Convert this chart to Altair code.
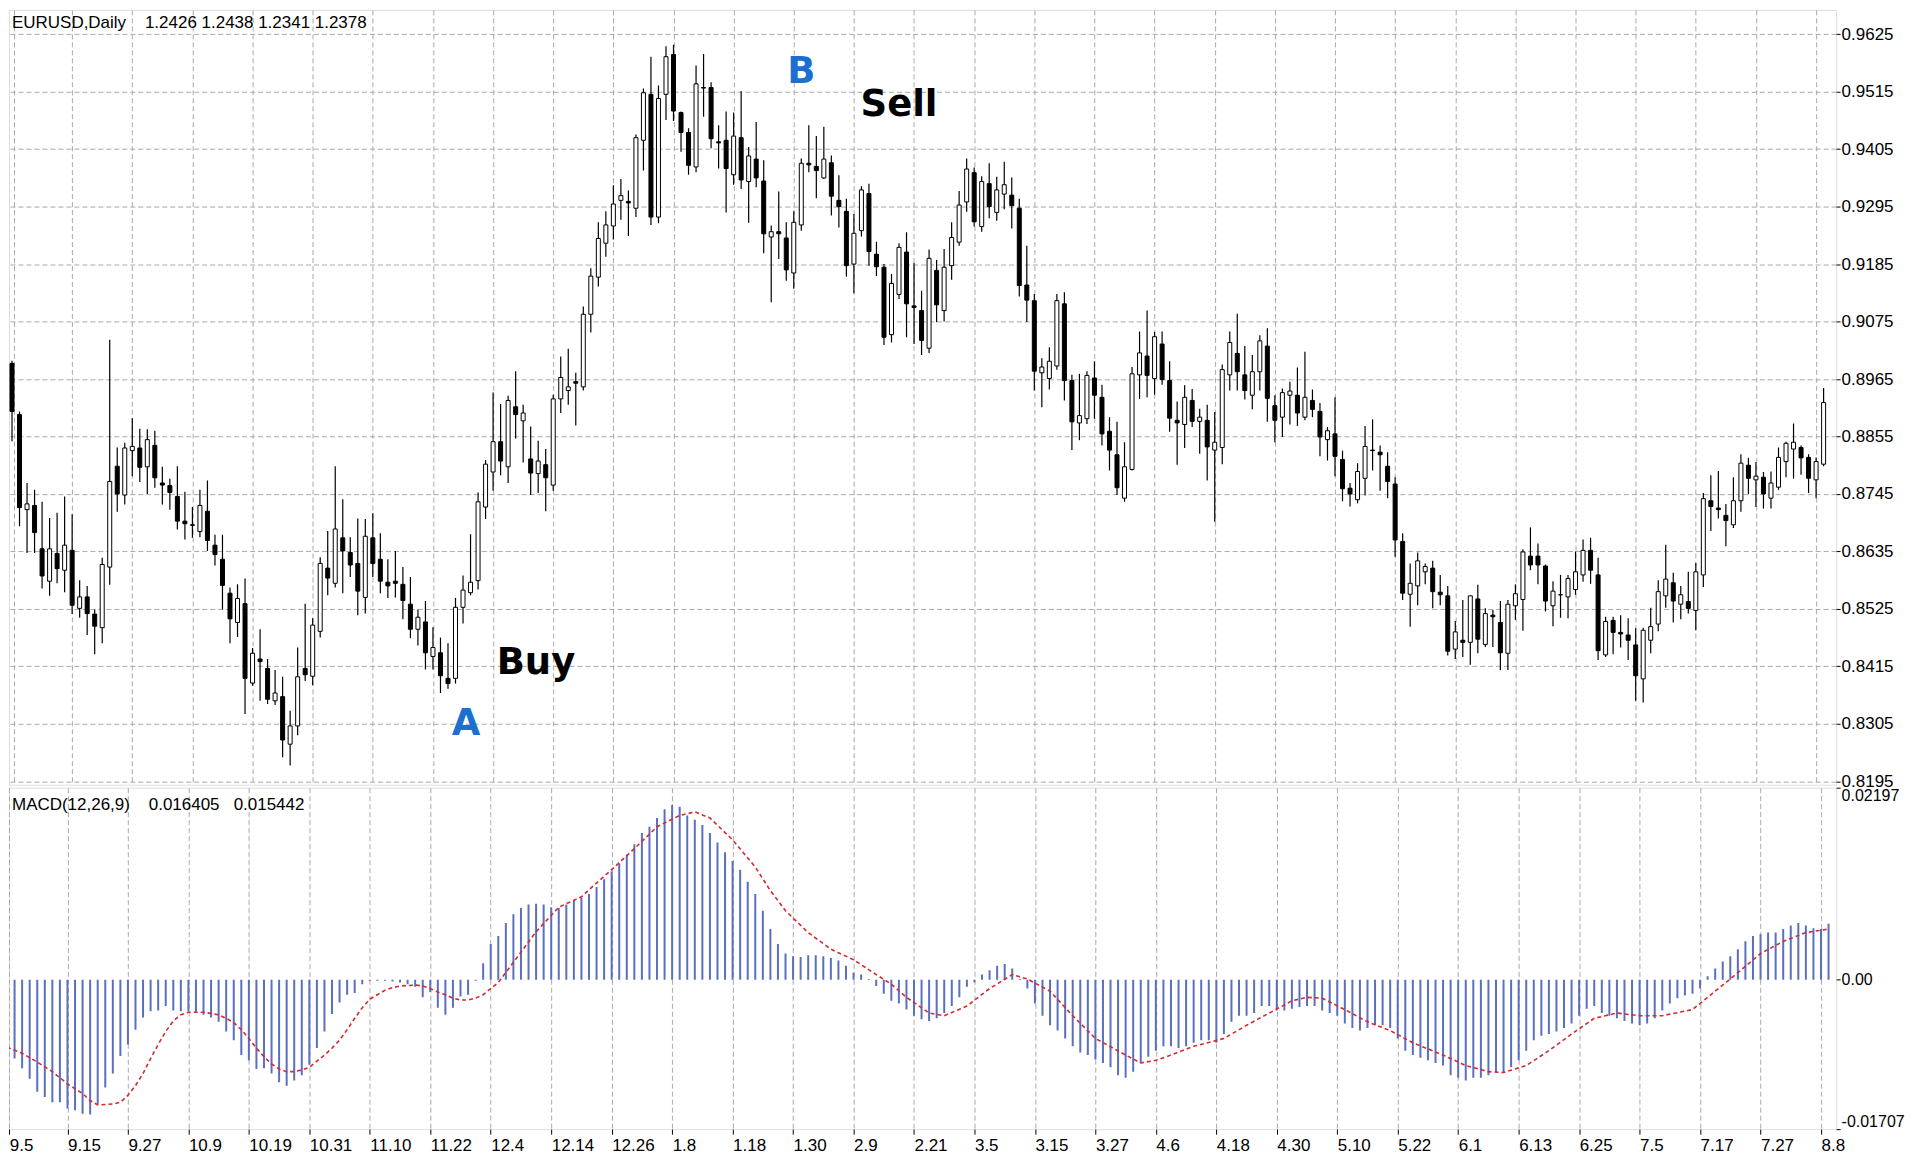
import altair as alt
import pandas as pd

# ---------------- data ----------------
DATE_LABELS = ["9.5", "9.15", "9.27", "10.9", "10.19", "10.31", "11.10", "11.22", "12.4",
               "12.14", "12.26", "1.8", "1.18", "1.30", "2.9", "2.21", "3.5", "3.15", "3.27",
               "4.6", "4.18", "4.30", "5.10", "5.22", "6.1", "6.13", "6.25", "7.5", "7.17",
               "7.27", "8.8"]

PRICE_TICKS = [0.9625, 0.9515, 0.9405, 0.9295, 0.9185, 0.9075, 0.8965, 0.8855, 0.8745,
               0.8635, 0.8525, 0.8415, 0.8305, 0.8195]
MACD_TICKS = [0.02197, 0.0, -0.01707]
MACD_TICK_LABELS = ["0.02197", "0.00", "-0.01707"]

OPEN = [
    .8995, .8897, .8715, .8723, .8640, .8578, .8631, .8599, .8637, .8526,
    .8548, .8515, .8489, .8605, .8798, .8743, .8828, .8833, .8797, .8838,
    .8766, .8761, .8740, .8693, .8686, .8673, .8712, .8647, .8620, .8555,
    .8499, .8535, .8383, .8429, .8411, .8349, .8357, .8266, .8301, .8411,
    .8396, .8482, .8603, .8574, .8661, .8633, .8612, .8547, .8661, .8620,
    .8576, .8578, .8572, .8534, .8486, .8500, .8434, .8441, .8392, .8392,
    .8528, .8556, .8579, .8720, .8787, .8845, .8797, .8912, .8885, .8812,
    .8784, .8801, .8762, .8927, .8943, .8960, .8950, .9089, .9160, .9225,
    .9258, .9307, .9305, .9292, .9422, .9510, .9275, .9510, .9586, .9475,
    .9437, .9371, .9523, .9523, .9419, .9422, .9356, .9427, .9343, .9386,
    .9344, .9237, .9247, .9235, .9168, .9260, .9378, .9372, .9350, .9379,
    .9307, .9286, .9185, .9249, .9320, .9204, .9179, .9050, .9127, .9208,
    .9105, .9096, .9024, .9173, .9096, .9182, .9227, .9304, .9360, .9257,
    .9339, .9284, .9319, .9317, .9292, .9145, .9115, .8977, .8966, .8990,
    .9109, .8962, .8881, .8889, .8967, .8930, .8865, .8820, .8737, .8792,
    .8973, .9009, .8966, .9032, .8962, .8886, .8878, .8924, .8884, .8886,
    .8829, .8834, .8973, .9014, .8973, .8934, .8979, .9028, .8914, .8892,
    .8934, .8934, .8892, .8924, .8903, .8849, .8860, .8811, .8756, .8734,
    .8775, .8829, .8825, .8798, .8764, .8654, .8553, .8569, .8596, .8603,
    .8557, .8550, .8448, .8465, .8461, .8544, .8457, .8513, .8499, .8440,
    .8531, .8543, .8626, .8626, .8607, .8531, .8552, .8548, .8562, .8590,
    .8637, .8590, .8437, .8503, .8480, .8475, .8456, .8391, .8465, .8496,
    .8550, .8575, .8534, .8539, .8522, .8590, .8732, .8718, .8704, .8686,
    .8732, .8800, .8772, .8777, .8737, .8758, .8807, .8831, .8834, .8815,
    .8772, .8802]

HIGH = [
    .9000, .8903, .8766, .8753, .8730, .8699, .8709, .8740, .8706, .8580,
    .8569, .8524, .8623, .9040, .8834, .8843, .8890, .8870, .8869, .8866,
    .8797, .8774, .8798, .8749, .8720, .8753, .8771, .8667, .8667, .8566,
    .8572, .8583, .8450, .8486, .8429, .8408, .8395, .8330, .8451, .8535,
    .8507, .8624, .8674, .8798, .8735, .8662, .8698, .8697, .8708, .8670,
    .8620, .8636, .8605, .8586, .8524, .8540, .8490, .8470, .8459, .8546,
    .8589, .8668, .8748, .8810, .8939, .8917, .8933, .8980, .8916, .8874,
    .8847, .8831, .8935, .9008, .9023, .8977, .9104, .9177, .9265, .9286,
    .9336, .9348, .9326, .9433, .9521, .9582, .9527, .9602, .9605, .9477,
    .9445, .9565, .9587, .9533, .9451, .9477, .9475, .9516, .9409, .9457,
    .9384, .9259, .9324, .9265, .9286, .9387, .9451, .9430, .9448, .9393,
    .9355, .9310, .9281, .9334, .9339, .9228, .9185, .9166, .9225, .9246,
    .9187, .9134, .9213, .9193, .9214, .9265, .9325, .9387, .9370, .9353,
    .9378, .9352, .9381, .9351, .9310, .9220, .9128, .9005, .9026, .9128,
    .9131, .8973, .8975, .8980, .8999, .8954, .8892, .8883, .8844, .8988,
    .9056, .9096, .9055, .9056, .8999, .8922, .8953, .8946, .8908, .8916,
    .8902, .8993, .9056, .9090, .9028, .9011, .9049, .9062, .8934, .8947,
    .8960, .8987, .9017, .8945, .8919, .8873, .8930, .8828, .8766, .8804,
    .8875, .8888, .8838, .8825, .8777, .8670, .8612, .8633, .8612, .8617,
    .8590, .8569, .8502, .8542, .8550, .8571, .8526, .8523, .8540, .8542,
    .8572, .8639, .8681, .8650, .8610, .8578, .8590, .8590, .8635, .8658,
    .8661, .8623, .8510, .8510, .8513, .8507, .8488, .8489, .8527, .8580,
    .8648, .8594, .8569, .8596, .8613, .8747, .8781, .8789, .8726, .8777,
    .8821, .8814, .8806, .8787, .8788, .8834, .8845, .8880, .8838, .8821,
    .8815, .8948]

LOW = [
    .8846, .8683, .8632, .8632, .8564, .8550, .8574, .8557, .8515, .8508,
    .8475, .8438, .8459, .8571, .8711, .8725, .8779, .8768, .8745, .8757,
    .8725, .8715, .8677, .8658, .8661, .8662, .8636, .8608, .8524, .8459,
    .8471, .8324, .8378, .8349, .8343, .8341, .8241, .8225, .8283, .8387,
    .8379, .8470, .8551, .8566, .8555, .8586, .8513, .8516, .8586, .8555,
    .8546, .8547, .8505, .8469, .8455, .8409, .8409, .8364, .8372, .8382,
    .8497, .8551, .8562, .8697, .8751, .8781, .8766, .8851, .8805, .8743,
    .8747, .8712, .8751, .8900, .8916, .8876, .8943, .9054, .9142, .9199,
    .9232, .9270, .9239, .9275, .9364, .9260, .9263, .9461, .9459, .9400,
    .9356, .9361, .9467, .9407, .9368, .9284, .9337, .9329, .9264, .9332,
    .9206, .9112, .9195, .9153, .9138, .9249, .9361, .9311, .9348, .9278,
    .9255, .9161, .9129, .9238, .9182, .9162, .9030, .9035, .9118, .9045,
    .9032, .9011, .9015, .9074, .9075, .9155, .9220, .9285, .9257, .9247,
    .9273, .9268, .9290, .9253, .9123, .9074, .8943, .8911, .8945, .8983,
    .8924, .8829, .8848, .8879, .8889, .8838, .8790, .8743, .8730, .8790,
    .8927, .8930, .8935, .8954, .8864, .8801, .8833, .8873, .8822, .8771,
    .8692, .8802, .8943, .8943, .8926, .8907, .8943, .8883, .8844, .8854,
    .8878, .8875, .8886, .8892, .8817, .8809, .8779, .8731, .8721, .8727,
    .8742, .8790, .8751, .8737, .8625, .8542, .8491, .8532, .8572, .8526,
    .8532, .8436, .8429, .8433, .8418, .8440, .8452, .8452, .8408, .8408,
    .8504, .8483, .8599, .8572, .8520, .8492, .8508, .8507, .8552, .8577,
    .8573, .8427, .8433, .8438, .8451, .8427, .8349, .8346, .8440, .8482,
    .8527, .8499, .8505, .8516, .8484, .8567, .8674, .8698, .8645, .8680,
    .8711, .8745, .8720, .8717, .8717, .8753, .8777, .8774, .8782, .8747,
    .8737, .8798]

CLOSE = [
    .8903, .8719, .8726, .8671, .8588, .8640, .8602, .8647, .8532, .8548,
    .8516, .8492, .8610, .8769, .8745, .8833, .8836, .8796, .8849, .8776,
    .8762, .8748, .8693, .8688, .8685, .8723, .8656, .8629, .8570, .8506,
    .8545, .8392, .8440, .8424, .8352, .8364, .8274, .8301, .8395, .8399,
    .8494, .8612, .8584, .8678, .8636, .8609, .8559, .8664, .8612, .8578,
    .8569, .8574, .8541, .8486, .8509, .8441, .8451, .8397, .8382, .8528,
    .8561, .8576, .8730, .8802, .8845, .8808, .8924, .8897, .8900, .8785,
    .8808, .8776, .8927, .8968, .8950, .8957, .9089, .9162, .9234, .9260,
    .9300, .9316, .9302, .9427, .9513, .9275, .9502, .9582, .9478, .9437,
    .9374, .9530, .9522, .9425, .9417, .9368, .9430, .9346, .9392, .9350,
    .9243, .9247, .9243, .9174, .9265, .9378, .9375, .9364, .9386, .9315,
    .9295, .9182, .9244, .9327, .9209, .9180, .9045, .9148, .9217, .9109,
    .9102, .9039, .9196, .9107, .9179, .9236, .9298, .9367, .9266, .9343,
    .9295, .9327, .9337, .9297, .9144, .9116, .8980, .8988, .8999, .9115,
    .8962, .8883, .8895, .8972, .8934, .8860, .8829, .8757, .8797, .8975,
    .9015, .8972, .9046, .8964, .8890, .8881, .8930, .8884, .8892, .8835,
    .8844, .8983, .9035, .8979, .8943, .8979, .9038, .8928, .8886, .8939,
    .8942, .8900, .8930, .8907, .8854, .8866, .8817, .8755, .8745, .8788,
    .8836, .8828, .8820, .8769, .8657, .8555, .8574, .8617, .8606, .8558,
    .8552, .8444, .8481, .8461, .8550, .8467, .8516, .8510, .8441, .8534,
    .8554, .8634, .8609, .8609, .8540, .8559, .8552, .8583, .8596, .8637,
    .8599, .8445, .8501, .8480, .8477, .8465, .8397, .8484, .8491, .8558,
    .8582, .8540, .8552, .8526, .8596, .8736, .8721, .8715, .8694, .8732,
    .8804, .8775, .8779, .8745, .8766, .8815, .8842, .8844, .8814, .8775,
    .8807, .8920]

MACD = [
    -.0072, -.0090, -.0101, -.0113, -.0128, -.0134, -.0140, -.0140, -.0147, -.0149,
    -.0153, -.0154, -.0142, -.0123, -.0107, -.0087, -.0074, -.0057, -.0043, -.0036,
    -.0035, -.0030, -.0035, -.0036, -.0036, -.0037, -.0040, -.0043, -.0048, -.0059,
    -.0069, -.0086, -.0092, -.0102, -.0101, -.0107, -.0117, -.0121, -.0115, -.0109,
    -.0097, -.0078, -.0059, -.0039, -.0026, -.0017, -.0015, -.0005, -.0001, -.0001,
    -.0001, -.0002, -.0003, -.0005, -.0008, -.0020, -.0014, -.0032, -.0040, -.0032,
    -.0019, -.0017, -.0001, .0019, .0041, .0050, .0065, .0075, .0082, .0086,
    .0087, .0086, .0083, .0082, .0086, .0090, .0094, .0098, .0106, .0115,
    .0124, .0133, .0143, .0155, .0168, .0175, .0185, .0195, .0200, .0198,
    .0188, .0183, .0177, .0168, .0157, .0146, .0136, .0126, .0112, .0098,
    .0079, .0058, .0041, .0030, .0027, .0026, .0028, .0028, .0027, .0025,
    .0022, .0016, .0008, .0006, .0001, -.0007, -.0016, -.0024, -.0027, -.0034,
    -.0041, -.0045, -.0047, -.0044, -.0038, -.0030, -.0020, -.0008, -.0003, .0006,
    .0011, .0016, .0018, .0013, .0001, -.0010, -.0027, -.0041, -.0052, -.0058,
    -.0067, -.0076, -.0083, -.0086, -.0091, -.0095, -.0100, -.0109, -.0112, -.0105,
    -.0095, -.0088, -.0081, -.0076, -.0076, -.0078, -.0076, -.0072, -.0069, -.0069,
    -.0072, -.0062, -.0048, -.0041, -.0041, -.0038, -.0030, -.0030, -.0035, -.0035,
    -.0033, -.0031, -.0030, -.0030, -.0035, -.0038, -.0041, -.0050, -.0055, -.0058,
    -.0055, -.0052, -.0052, -.0055, -.0067, -.0081, -.0086, -.0089, -.0092, -.0095,
    -.0098, -.0109, -.0112, -.0115, -.0112, -.0112, -.0109, -.0106, -.0106, -.0100,
    -.0092, -.0081, -.0069, -.0064, -.0062, -.0059, -.0055, -.0050, -.0041, -.0033,
    -.0030, -.0038, -.0041, -.0044, -.0047, -.0050, -.0052, -.0050, -.0044, -.0035,
    -.0027, -.0021, -.0018, -.0016, -.0010, .0004, .0013, .0021, .0027, .0035,
    .0044, .0050, .0052, .0054, .0054, .0058, .0062, .0065, .0062, .0059,
    .0058, .0064]

SIG_BAR = [0, 2, 4, 6, 8, 10, 11, 12, 14, 15, 16, 17, 18, 19, 20, 21, 22, 23, 24, 26,
           28, 29, 30, 31, 32, 33, 34, 35, 36, 37, 38, 39, 40, 41, 42, 43, 44, 45, 46, 47,
           48, 49, 50, 51, 52, 54, 55, 56, 57, 58, 59, 60, 61, 62, 63, 64, 65,
           67, 70, 73, 76, 77, 80, 83, 86, 89, 91, 93, 96, 99, 101, 103, 106, 109, 112,
           115, 117, 119, 122, 124, 127, 130, 133, 135, 138, 141, 144, 148, 150, 152, 154,
           157, 161, 164, 167, 170, 172, 174, 177, 180, 183, 186, 190, 193, 196, 198, 201,
           204, 207, 210, 213, 216, 219, 223, 225, 228, 232, 235, 238, 241]
SIG_VAL = [-.0077, -.0084, -.0094, -.0105, -.0119, -.0130, -.0138, -.0143, -.0142, -.0140,
           -.0132, -.0121, -.0107, -.0090, -.0074, -.0059, -.0047, -.0040, -.0037, -.0037,
           -.0040, -.0044, -.0049, -.0057, -.0067, -.0078, -.0088, -.0096, -.0102, -.0105,
           -.0105, -.0103, -.0100, -.0093, -.0086, -.0078, -.0069, -.0057, -.0044, -.0032,
           -.0022, -.0017, -.0012, -.0009, -.0007, -.0006, -.0007, -.0010, -.0014, -.0017,
           -.0021, -.0023, -.0023, -.0021, -.0017, -.0010, -.0003,
           .0020, .0055, .0083, .0095, .0103, .0126, .0150, .0175, .0188, .0192, .0185,
           .0160, .0129, .0102, .0079, .0054, .0035, .0023,
           .0006, -.0005, -.0020, -.0038, -.0041, -.0030, -.0010, .0006, .0001, -.0013,
           -.0041, -.0067, -.0086, -.0095, -.0092, -.0086,
           -.0076, -.0067, -.0052, -.0038, -.0024, -.0020, -.0021, -.0034, -.0048, -.0058,
           -.0072, -.0086, -.0098, -.0105, -.0106, -.0098,
           -.0081, -.0062, -.0044, -.0038, -.0041, -.0041, -.0034, -.0020, .0001, .0030,
           .0044, .0054, .0058]

ANNOT_TEXT = ["Buy", "Sell", "A", "B"]
ANNOT_BAR = [69.7, 118.0, 60.4, 105.0]
ANNOT_PRICE = [0.8401, 0.9468, 0.8284, 0.9531]
ANNOT_COLOR = ["black", "black", "#1b6fd1", "#1b6fd1"]

HEADER_PRICE = "EURUSD,Daily\u00a0\u00a0\u00a0\u00a01.2426 1.2438 1.2341 1.2378"
HEADER_MACD = "MACD(12,26,9)\u00a0\u00a0\u00a0\u00a00.016405\u00a0\u00a0\u00a00.015442"

# ---------------- styling ----------------
FONT = "Liberation Sans"
GRID = "#a9a9a9"
HIST_COLOR = "#5b6fbf"
SIG_COLOR = "#d42a30"

W, H1, H2 = 1830, 776, 342
X_DOMAIN = [0.264, 242.0]
PRICE_DOMAIN = [0.81885, 0.96716]
MACD_DOMAIN = [MACD_TICKS[2], MACD_TICKS[0]]

n = len(OPEN)
candles = pd.DataFrame({"i": list(range(n)), "open": OPEN, "high": HIGH, "low": LOW,
                        "close": CLOSE, "macd": MACD})
candles["zero"] = 0.0
signal = pd.DataFrame({"i": SIG_BAR, "v": SIG_VAL})
annot = pd.DataFrame({"i": ANNOT_BAR, "p": ANNOT_PRICE, "t": ANNOT_TEXT, "c": ANNOT_COLOR})

XT = [0.3] + [8 * k for k in range(1, len(DATE_LABELS))]
label_expr = "[" + ",".join("'%s'" % s for s in DATE_LABELS) + "][round(datum.value / 8)]"
macd_label_expr = ("datum.value > 0.001 ? '%s' : (datum.value < -0.001 ? '%s' : '%s')"
                   % (MACD_TICK_LABELS[0], MACD_TICK_LABELS[2], MACD_TICK_LABELS[1]))

xscale = alt.Scale(domain=X_DOMAIN, nice=False, zero=False)
pscale = alt.Scale(domain=PRICE_DOMAIN, nice=False, zero=False)
mscale = alt.Scale(domain=MACD_DOMAIN, nice=False, zero=False)

x_top_axis = alt.Axis(values=XT, labels=False, ticks=False, domain=False, grid=True,
                      gridColor=GRID, gridDash=[5, 3], title=None)
p_axis = alt.Axis(orient="right", values=PRICE_TICKS, format=".4f", grid=True,
                  gridColor=GRID, gridDash=[5, 3], domain=False, ticks=True, tickSize=4,
                  tickColor="black", labelPadding=1, labelFont=FONT, labelFontSize=17,
                  labelColor="black", title=None, labelOverlap=False)
x_bot_axis = alt.Axis(values=XT, labelExpr=label_expr, labelAlign="left", labelFont=FONT,
                      labelFontSize=17, labelColor="black", labelPadding=3, ticks=True,
                      tickSize=5, tickColor="black", domain=False, grid=True,
                      gridColor=GRID, gridDash=[5, 3], title=None, labelOverlap=False,
                      labelFlush=False)
m_axis = alt.Axis(orient="right", values=MACD_TICKS, labelExpr=macd_label_expr,
                  labelFont=FONT, labelFontSize=16, labelColor="black", labelPadding=1,
                  tickSize=4, tickColor="black", domain=False, grid=False, title=None,
                  labelFlush=True, labelOverlap=False)

x_top = alt.X("i:Q", scale=xscale, axis=x_top_axis)
x_bot = alt.X("i:Q", scale=xscale, axis=x_bot_axis)

# ---------------- price panel ----------------
wicks = alt.Chart(candles).mark_rule(color="black", strokeWidth=1.2, clip=True).encode(
    x=x_top, y=alt.Y("low:Q", scale=pscale, axis=p_axis), y2="high:Q")

bodies = alt.Chart(candles).mark_bar(size=4, stroke="black", strokeWidth=1, clip=True).encode(
    x=x_top, y=alt.Y("open:Q", scale=pscale, axis=p_axis), y2="close:Q",
    fill=alt.condition("datum.close >= datum.open", alt.value("white"), alt.value("black")))

annotations = alt.Chart(annot).mark_text(
    font="DejaVu Sans", fontWeight="bold", fontSize=37, align="center",
    baseline="alphabetic").encode(
    x=x_top, y=alt.Y("p:Q", scale=pscale, axis=p_axis), text="t:N",
    color=alt.Color("c:N", scale=None))

header1 = alt.Chart(pd.DataFrame({"t": [HEADER_PRICE]})).mark_text(
    align="left", baseline="middle", font=FONT, fontSize=17, color="black").encode(
    x=alt.value(3), y=alt.value(13), text="t:N")

price = alt.layer(wicks, bodies, annotations, header1).properties(width=W, height=H1)

# ---------------- MACD panel ----------------
hist = alt.Chart(candles).mark_rule(color=HIST_COLOR, strokeWidth=2, clip=True).encode(
    x=x_bot, y=alt.Y("macd:Q", scale=mscale, axis=m_axis), y2="zero:Q")

sig = alt.Chart(signal).mark_line(color=SIG_COLOR, strokeWidth=1.6, strokeDash=[4, 3],
                                  clip=True).encode(
    x=x_bot, y=alt.Y("v:Q", scale=mscale, axis=m_axis))

header2 = alt.Chart(pd.DataFrame({"t": [HEADER_MACD]})).mark_text(
    align="left", baseline="middle", font=FONT, fontSize=17, color="black").encode(
    x=alt.value(3), y=alt.value(17), text="t:N")

macd = alt.layer(hist, sig, header2).properties(width=W, height=H2)

chart = alt.vconcat(price, macd, spacing=3, bounds="flush").properties(
    padding={"left": 0, "top": 0, "right": 2, "bottom": 0}
).configure_view(stroke="black", strokeWidth=1).configure(background="white")

chart.save("out.html", embed_options={"renderer": "svg", "actions": False})
